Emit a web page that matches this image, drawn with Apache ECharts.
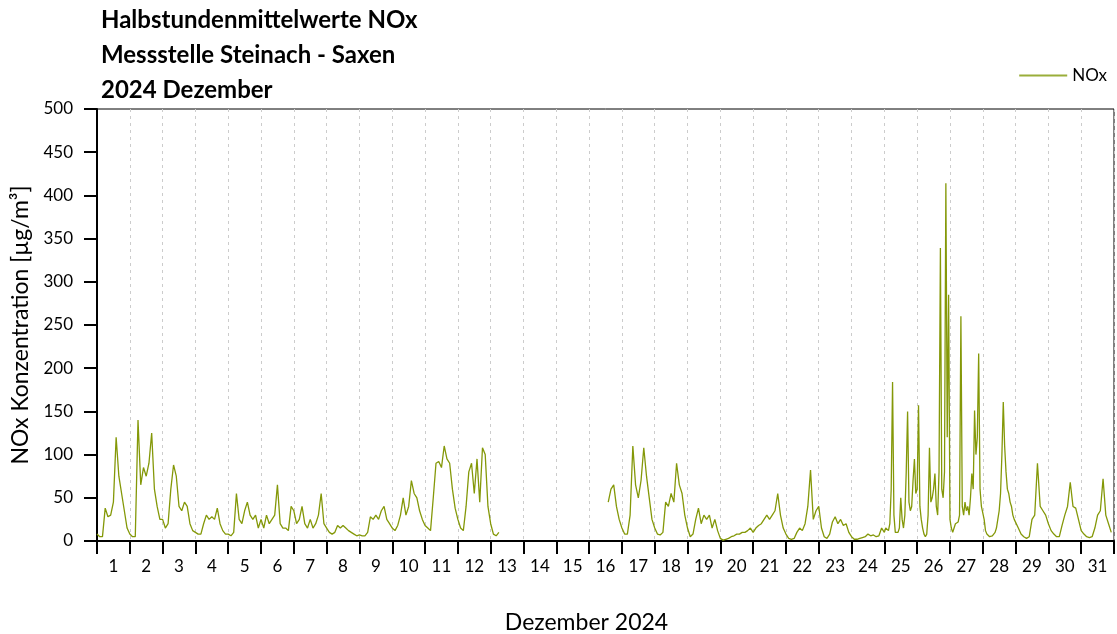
<!DOCTYPE html>
<html>
<head>
<meta charset="utf-8">
<title>NOx Steinach - Saxen Dezember 2024</title>
<script src="https://cdn.jsdelivr.net/npm/echarts@6/dist/echarts.min.js"></script>
<style>
  html, body { margin: 0; padding: 0; background: #fff; }
  #chart { width: 1117px; height: 634px; }
</style>
</head>
<body>
<div id="chart"></div>
<script>
// Halbstundenmittelwerte NOx, Dezember 2024 – Werte aus der Grafik abgelesen
// je Tag: 12 Werte (2-stündlich) bzw. 24 Werte (stündlich) in µg/m³
const dayLabels = ['1','2','3','4','5','6','7','8','9','10','11','12','13','14','15','16',
  '17','18','19','20','21','22','23','24','25','26','27','28','29','30','31'];
const yTicks = [0, 50, 100, 150, 200, 250, 300, 350, 400, 450, 500];

const dec01 = [8, 5, 5, 38, 28, 30, 45, 120, 75, 55, 35, 15];
const dec02 = [8, 5, 5, 140, 65, 85, 75, 90, 125, 60, 40, 25];
const dec03 = [25, 15, 20, 60, 88, 75, 40, 35, 45, 40, 20, 12];
const dec04 = [10, 8, 8, 20, 30, 25, 28, 25, 38, 20, 12, 8];
const dec05 = [8, 6, 10, 55, 25, 20, 35, 45, 30, 25, 30, 15];
const dec06 = [25, 15, 30, 20, 25, 30, 65, 20, 15, 15, 12, 40];
const dec07 = [35, 20, 25, 40, 20, 15, 25, 15, 20, 30, 55, 20];
const dec08 = [15, 10, 8, 10, 18, 15, 18, 15, 12, 10, 8, 6];
const dec09 = [7, 6, 6, 10, 28, 25, 30, 25, 35, 40, 25, 20];
const dec10 = [15, 12, 18, 30, 50, 30, 40, 70, 55, 50, 35, 25];
const dec11 = [18, 15, 12, 50, 90, 92, 85, 110, 95, 90, 60, 38];
const dec12 = [25, 15, 12, 40, 80, 90, 55, 95, 45, 108, 100, 40];
const dec13 = [20, 8, 6, 10, null, null, null, null, null, null, null, null];
const dec14 = [];
const dec15 = [];
const dec16 = [null, null, null, null, null, null, null, 45, 60, 65, 40, 25];
const dec17 = [15, 8, 8, 30, 110, 65, 50, 70, 108, 75, 50, 25];
const dec18 = [15, 8, 7, 10, 45, 40, 55, 45, 90, 65, 55, 30];
const dec19 = [15, 5, 8, 25, 38, 20, 30, 25, 30, 15, 25, 12];
const dec20 = [3, 1, 2, 3, 5, 6, 8, 8, 10, 10, 12, 15];
const dec21 = [10, 15, 18, 20, 25, 30, 25, 30, 35, 55, 30, 15];
const dec22 = [8, 3, 2, 3, 10, 15, 12, 20, 40, 82, 25, 35];
const dec23 = [40, 15, 5, 3, 8, 22, 28, 20, 25, 18, 20, 10];
const dec24 = [5, 2, 2, 3, 4, 5, 8, 6, 7, 5, 6, 15];
const dec25 = [10, 15, 15, 12, 20, 60, 184, 30, 10, 8, 10, 15,
  50, 25, 15, 30, 80, 150, 45, 35, 40, 70, 95, 55];
const dec26 = [60, 157, 40, 25, 15, 8, 5, 8, 30, 108, 45, 50,
  60, 78, 40, 30, 80, 339, 60, 50, 80, 414, 120, 285];
const dec27 = [25, 15, 10, 15, 20, 18, 22, 30, 260, 40, 30, 45,
  35, 40, 30, 50, 78, 60, 151, 100, 120, 217, 60, 40];
const dec28 = [40, 25, 12, 8, 6, 5, 5, 6, 8, 10, 15, 25,
  35, 55, 100, 161, 110, 80, 60, 55, 45, 40, 30, 25];
const dec29 = [25, 15, 8, 5, 3, 5, 25, 30, 90, 40, 35, 30];
const dec30 = [20, 12, 8, 5, 5, 18, 30, 40, 68, 40, 38, 25];
const dec31 = [12, 8, 5, 4, 5, 15, 30, 35, 72, 30, 20, 10];

const days = [dec01, dec02, dec03, dec04, dec05, dec06, dec07, dec08, dec09, dec10,
  dec11, dec12, dec13, dec14, dec15, dec16, dec17, dec18, dec19, dec20, dec21,
  dec22, dec23, dec24, dec25, dec26, dec27, dec28, dec29, dec30, dec31];

// [Tag als Dezimalzahl, Wert]
var noxData = [];
days.forEach(function (vals, d) {
  vals.forEach(function (v, i) {
    noxData.push([d + i / vals.length, v]);
  });
});

var myChart = echarts.init(document.getElementById('chart'));
var font = 'Lato, "Open Sans", sans-serif';
var lineColor = '#849808';

var option = {
  animation: false,
  textStyle: { fontFamily: font },
  title: {
    text: 'Halbstundenmittelwerte NOx\nMessstelle Steinach - Saxen\n2024 Dezember',
    left: 96,
    top: -2,
    textStyle: { fontSize: 24, fontWeight: 'bold', color: '#000', lineHeight: 35, fontFamily: font }
  },
  legend: {
    data: ['NOx'],
    right: 5,
    top: 62,
    itemWidth: 48,
    itemHeight: 2,
    icon: 'rect',
    itemGap: 6,
    textStyle: { fontSize: 17, color: '#000', fontFamily: font }
  },
  grid: {
    left: 97,
    top: 109,
    right: 3,
    bottom: 93,
    outerBoundsMode: 'none',
    containLabel: false,
    show: true,
    borderColor: '#000',
    borderWidth: 1
  },
  xAxis: [
    {
      type: 'category',
      data: dayLabels,
      boundaryGap: true,
      name: 'Dezember 2024',
      nameLocation: 'middle',
      nameGap: 70,
      nameTextStyle: { fontSize: 23, color: '#000', padding: [0, 38, 0, 0] },
      axisLine: { lineStyle: { color: '#000', width: 2 } },
      axisTick: { show: true, alignWithLabel: false, length: 13, lineStyle: { color: '#000', width: 2 } },
      axisLabel: { fontSize: 17, color: '#000', margin: 17, interval: 0 },
      splitLine: { show: true, lineStyle: { color: '#cccccc', type: [3, 4], width: 1 } }
    },
    {
      type: 'value',
      min: 0,
      max: 31,
      show: false
    }
  ],
  yAxis: {
    type: 'value',
    min: yTicks[0],
    max: yTicks[yTicks.length - 1],
    interval: 50,
    name: 'NOx Konzentration [µg/m³]',
    nameLocation: 'middle',
    nameGap: 62,
    nameTextStyle: { fontSize: 23, color: '#000' },
    axisLine: { show: true, lineStyle: { color: '#000', width: 2 } },
    axisTick: { show: true, length: 13, lineStyle: { color: '#000', width: 2 } },
    axisLabel: { fontSize: 17, color: '#000', margin: 24 },
    splitLine: { show: false }
  },
  series: [
    {
      name: 'NOx',
      type: 'line',
      xAxisIndex: 1,
      data: noxData,
      showSymbol: false,
      connectNulls: false,
      lineStyle: { color: lineColor, width: 1.3 },
      itemStyle: { color: '#9aae3a' }
    }
  ]
};

option && myChart.setOption(option);
</script>
</body>
</html>
